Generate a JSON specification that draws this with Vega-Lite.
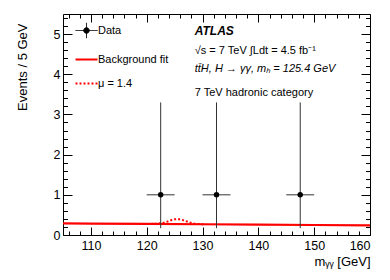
{
  "$schema": "https://vega.github.io/schema/vega-lite/v6.json",
  "width": 307,
  "height": 221,
  "autosize": "none",
  "padding": {"left": 63, "top": 14, "right": 20, "bottom": 45},
  "background": "white",
  "config": {
    "font": "Liberation Sans",
    "view": {"stroke": "black", "strokeWidth": 1},
    "axis": {"grid": false, "domain": false, "tickColor": "black", "labelColor": "black", "titleColor": "black", "labelFontSize": 12.5, "titleFontSize": 13, "titleFontWeight": "normal", "minExtent": 0, "offset": 0}
  },
  "datasets": {
    "bkg": [
      {"m": 105, "y": 0.29}, {"m": 110, "y": 0.285}, {"m": 120, "y": 0.276}, {"m": 130, "y": 0.267},
      {"m": 140, "y": 0.258}, {"m": 150, "y": 0.249}, {"m": 160, "y": 0.24}
    ],
    "sig": [
      {"m": 120, "y": 0.276}, {"m": 120.5, "y": 0.276}, {"m": 121, "y": 0.277}, {"m": 121.5, "y": 0.279},
      {"m": 122, "y": 0.283}, {"m": 122.5, "y": 0.291}, {"m": 123, "y": 0.305}, {"m": 123.5, "y": 0.324},
      {"m": 124, "y": 0.349}, {"m": 124.5, "y": 0.372}, {"m": 125, "y": 0.39}, {"m": 125.5, "y": 0.396},
      {"m": 126, "y": 0.389}, {"m": 126.5, "y": 0.37}, {"m": 127, "y": 0.346}, {"m": 127.5, "y": 0.321},
      {"m": 128, "y": 0.3}, {"m": 128.5, "y": 0.286}, {"m": 129, "y": 0.276}, {"m": 129.5, "y": 0.271},
      {"m": 130, "y": 0.269}, {"m": 130.5, "y": 0.267}
    ],
    "pts": [
      {"m": 122.5, "n": 1, "lo": 0.17, "hi": 3.3, "xlo": 120, "xhi": 125},
      {"m": 132.5, "n": 1, "lo": 0.17, "hi": 3.3, "xlo": 130, "xhi": 135},
      {"m": 147.5, "n": 1, "lo": 0.17, "hi": 3.3, "xlo": 145, "xhi": 150}
    ]
  },
  "resolve": {"axis": {"x": "independent", "y": "independent"}},
  "layer": [
    {
      "data": {"name": "bkg"},
      "mark": {"type": "line", "strokeWidth": 2.2},
      "encoding": {
        "x": {"field": "m", "type": "quantitative", "scale": {"domain": [105, 160], "nice": false, "zero": false},
          "axis": {"orient": "bottom", "values": [110, 120, 130, 140, 150, 160], "tickSize": -8,
            "labelPadding": 12, "title": "mᵧᵧ [GeV]", "titleX": 307, "titleY": 30, "titleAlign": "right", "titleBaseline": "alphabetic"}},
        "y": {"field": "y", "type": "quantitative", "scale": {"domain": [0, 5.5], "nice": false},
          "axis": {"orient": "left", "values": [0, 1, 2, 3, 4, 5], "format": "d", "tickSize": -9,
            "labelPadding": 12, "title": "Events / 5 GeV", "titleX": -41, "titleY": 9, "titleAngle": -90, "titleAlign": "right", "titleBaseline": "middle"}},
        "color": {"datum": "Background fit", "scale": {"domain": ["Data", "Background fit", "μ = 1.4"], "range": ["black", "#ff0000", "#ff0000"]},
          "legend": {"orient": "none", "legendX": 18, "legendY": 11, "title": null, "symbolType": "stroke", "symbolSize": 484,
            "labelFontSize": 11, "labelOffset": 6, "rowPadding": 12, "padding": 0, "symbolStrokeWidth": 2,
            "encode": {"symbols": {"update": {
              "shape": {"signal": "datum.value === 'Data' ? 'M-1,0H1M0,-0.7V0.7M0.25,0A0.25,0.25,0,1,1,-0.25,0A0.25,0.25,0,1,1,0.25,0' : 'stroke'"},
              "strokeDash": {"signal": "datum.value === 'μ = 1.4' ? [2, 2] : [1, 0]"},
              "fill": {"signal": "datum.value === 'Data' ? 'black' : 'transparent'"},
              "stroke": {"signal": "datum.value === 'Data' ? 'black' : '#ff0000'"},
              "strokeWidth": {"signal": "datum.value === 'Data' ? 1 : 2"}
            }}}}}
      }
    },
    {
      "data": {"name": "sig"},
      "mark": {"type": "line", "strokeWidth": 2, "strokeDash": [2, 2]},
      "encoding": {
        "x": {"field": "m", "type": "quantitative",
          "axis": {"orient": "top", "values": [110, 120, 130, 140, 150, 160], "labels": false, "title": null, "tickSize": -8}},
        "y": {"field": "y", "type": "quantitative",
          "axis": {"orient": "right", "values": [0, 1, 2, 3, 4, 5], "labels": false, "title": null, "tickSize": -9}},
        "color": {"datum": "μ = 1.4"}
      }
    },
    {
      "data": {"name": "pts"},
      "mark": {"type": "rule", "strokeWidth": 1, "color": "#333333"},
      "encoding": {
        "x": {"field": "m", "type": "quantitative",
          "axis": {"orient": "bottom", "values": [106,108,112,114,116,118,122,124,126,128,132,134,136,138,142,144,146,148,152,154,156,158], "labels": false, "title": null, "tickSize": -4}},
        "y": {"field": "lo", "type": "quantitative",
          "axis": {"orient": "left", "values": [0.2,0.4,0.6,0.8,1.2,1.4,1.6,1.8,2.2,2.4,2.6,2.8,3.2,3.4,3.6,3.8,4.2,4.4,4.6,4.8,5.2,5.4], "labels": false, "title": null, "tickSize": -4.5}},
        "y2": {"field": "hi"}
      }
    },
    {
      "data": {"name": "pts"},
      "mark": {"type": "rule", "strokeWidth": 1, "color": "#333333"},
      "encoding": {
        "x": {"field": "xlo", "type": "quantitative",
          "axis": {"orient": "top", "values": [106,108,112,114,116,118,122,124,126,128,132,134,136,138,142,144,146,148,152,154,156,158], "labels": false, "title": null, "tickSize": -4}},
        "x2": {"field": "xhi"},
        "y": {"field": "n", "type": "quantitative",
          "axis": {"orient": "right", "values": [0.2,0.4,0.6,0.8,1.2,1.4,1.6,1.8,2.2,2.4,2.6,2.8,3.2,3.4,3.6,3.8,4.2,4.4,4.6,4.8,5.2,5.4], "labels": false, "title": null, "tickSize": -4.5}}
      }
    },
    {
      "data": {"name": "pts"},
      "mark": {"type": "point", "filled": true, "size": 30, "opacity": 1},
      "encoding": {
        "x": {"field": "m", "type": "quantitative", "axis": null},
        "y": {"field": "n", "type": "quantitative", "axis": null},
        "color": {"datum": "Data"}
      }
    },
    {
      "data": {"values": [{}]},
      "mark": {"type": "text", "align": "left", "baseline": "alphabetic", "fontSize": 12, "fontWeight": "bold", "fontStyle": "italic", "color": "black"},
      "encoding": {
        "x": {"datum": 128.6, "type": "quantitative", "axis": null},
        "y": {"datum": 4.97, "type": "quantitative", "axis": null},
        "text": {"value": "ATLAS"}
      }
    },
    {
      "data": {"values": [{}]},
      "mark": {"type": "text", "align": "left", "baseline": "alphabetic", "fontSize": 11, "color": "black"},
      "encoding": {
        "x": {"datum": 128.6, "type": "quantitative", "axis": null},
        "y": {"datum": 4.5, "type": "quantitative", "axis": null},
        "text": {"value": "√s = 7 TeV ∫Ldt = 4.5 fb⁻¹"}
      }
    },
    {
      "data": {"values": [{}]},
      "mark": {"type": "text", "align": "left", "baseline": "alphabetic", "fontSize": 11, "fontStyle": "italic", "color": "black"},
      "encoding": {
        "x": {"datum": 128.6, "type": "quantitative", "axis": null},
        "y": {"datum": 4.05, "type": "quantitative", "axis": null},
        "text": {"value": "tt̄H, H → γγ, mₕ = 125.4 GeV"}
      }
    },
    {
      "data": {"values": [{}]},
      "mark": {"type": "text", "align": "left", "baseline": "alphabetic", "fontSize": 11, "color": "black"},
      "encoding": {
        "x": {"datum": 128.6, "type": "quantitative", "axis": null},
        "y": {"datum": 3.45, "type": "quantitative", "axis": null},
        "text": {"value": "7 TeV hadronic category"}
      }
    }
  ]
}
